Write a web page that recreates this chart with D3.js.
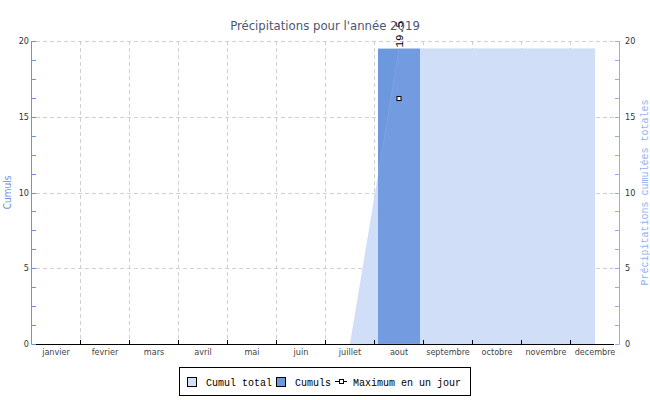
<!DOCTYPE html>
<html><head><meta charset="utf-8">
<script src="https://cdn.jsdelivr.net/npm/d3@7"></script>
<style>body{margin:0;background:#fff}</style>
</head><body>
<svg id="c" width="650" height="400"></svg>
<script>
const months = ["janvier","fevrier","mars","avril","mai","juin","juillet","aout","septembre","octobre","novembre","decembre"];
const cumulTotal = [0,0,0,0,0,0,0,19.5,19.5,19.5,19.5,19.5];
const cumuls = [0,0,0,0,0,0,0,19.5,0,0,0,0];
const maxJour = [null,null,null,null,null,null,null,16.2,null,null,null,null];
const yTicks = [0,5,10,15,20];
const title = "Précipitations pour l'année 2019";

const svg = d3.select("#c");
const L = 31.5, R = 619.5, T = 41, B = 344;
const x = d3.scaleBand().domain(months).range([L, R]);
const y = d3.scaleLinear().domain([0, 20]).range([B, T]);
const cx = m => x(m) + x.bandwidth()/2;
const sans = "'DejaVu Sans Condensed','DejaVu Sans',sans-serif";
const mono = "'Liberation Mono','DejaVu Sans Mono',monospace";

// grid
const g = svg.append("g");
g.selectAll("line.h").data(yTicks.filter(d=>d>0)).join("line")
  .attr("x1", 36).attr("x2", 614).attr("y1", d=>Math.round(y(d))+0.5).attr("y2", d=>Math.round(y(d))+0.5)
  .attr("stroke", "#d0d0d0").attr("stroke-dasharray", "4,3");
g.selectAll("line.v").data(months.slice(1)).join("line")
  .attr("x1", d=>Math.round(x(d))-0.5).attr("x2", d=>Math.round(x(d))-0.5).attr("y1", T).attr("y2", B)
  .attr("stroke", "#d0d0d0").attr("stroke-dasharray", "4,3");

// area cumul total
const area = d3.area().x(d=>cx(d.m)).y0(B).y1(d=>y(d.v));
const areaData = months.map((m,i)=>({m, v: cumulTotal[i]})).filter((d,i)=>i>=6);
svg.append("path").datum(areaData).attr("d", area).attr("fill", "#d2dff8");

// bars
const pad = 3.5;
svg.selectAll("rect.bar").data(months.map((m,i)=>({m, v: cumuls[i]})).filter(d=>d.v>0)).join("rect")
  .attr("x", d=>x(d.m)+pad).attr("width", x.bandwidth()-2*pad)
  .attr("y", d=>y(d.v)).attr("height", d=>B - y(d.v))
  .attr("fill", "#6d98dd");

// faint area overlay over the bar
svg.append("path").datum(areaData).attr("d", area)
  .attr("fill","rgba(210,223,248,0.06)").attr("stroke","rgba(210,223,248,0.12)").attr("stroke-width",1);

// max marker
svg.selectAll("rect.mk").data(months.map((m,i)=>({m, v: maxJour[i]})).filter(d=>d.v!=null)).join("rect")
  .attr("x", d=>cx(d.m)-2).attr("y", d=>y(d.v)-2).attr("width", 4).attr("height", 4)
  .attr("fill", "#fff").attr("stroke", "#000").attr("stroke-width", 1);

// left axis
svg.append("line").attr("x1", 31.5).attr("x2", 31.5).attr("y1", T).attr("y2", B+0.5).attr("stroke", "#6a94dc");
const minor = d3.range(0, 20.01, 1.25);
svg.selectAll("line.lt").data(minor).join("line")
  .attr("x1", 31.5).attr("x2", 36).attr("y1", d=>Math.round(y(d))+0.5).attr("y2", d=>Math.round(y(d))+0.5)
  .attr("stroke", "#6a94dc");
svg.selectAll("text.ly").data(yTicks).join("text")
  .attr("x", 29).attr("y", d=>y(d)).attr("dy", "0.35em").attr("text-anchor", "end")
  .attr("font-family", sans).attr("font-size", 9).attr("fill", "#333").text(d=>d);
svg.append("text").attr("transform", `translate(11,${(T+B)/2}) rotate(-90)`).attr("text-anchor","middle")
  .attr("font-family", sans).attr("font-size", 10).attr("fill", "#6a94dc").text("Cumuls");

// right axis
svg.append("line").attr("x1", 619.5).attr("x2", 619.5).attr("y1", T).attr("y2", B+0.5).attr("stroke", "#8db2f2");
svg.selectAll("line.rt").data(minor).join("line")
  .attr("x1", 615).attr("x2", 619.5).attr("y1", d=>Math.round(y(d))+0.5).attr("y2", d=>Math.round(y(d))+0.5)
  .attr("stroke", "#8db2f2");
svg.selectAll("text.ry").data(yTicks).join("text")
  .attr("x", 625).attr("y", d=>y(d)).attr("dy", "0.35em").attr("text-anchor", "start")
  .attr("font-family", sans).attr("font-size", 9).attr("fill", "#333").text(d=>d);
svg.append("text").attr("transform", `translate(648,${(T+B)/2}) rotate(-90)`).attr("text-anchor","middle")
  .attr("font-family", mono).attr("font-size", 10).attr("fill", "#8db2f2").text("Précipitations cumulées totales");

// bottom axis
svg.append("line").attr("x1", 36).attr("x2", 614).attr("y1", B+0.5).attr("y2", B+0.5).attr("stroke", "#000");
svg.selectAll("line.bt").data(months.slice(1)).join("line")
  .attr("x1", d=>Math.round(x(d))-0.5).attr("x2", d=>Math.round(x(d))-0.5).attr("y1", B-4).attr("y2", B+0.5)
  .attr("stroke", "#000");
svg.selectAll("text.mx").data(months).join("text")
  .attr("x", d=>cx(d)).attr("y", 355).attr("text-anchor", "middle")
  .attr("font-family", sans).attr("font-size", 9).attr("fill", "#444").text(d=>d);

// title
svg.append("text").attr("x", 325).attr("y", 30).attr("text-anchor","middle")
  .attr("font-family", sans).attr("font-size", 13).attr("fill", "#4d5670").text(title);

// bar label
svg.selectAll("text.bl").data(months.map((m,i)=>({m, v: cumuls[i]})).filter(d=>d.v>0)).join("text")
  .attr("transform", d=>`translate(${cx(d.m)+4},${y(d.v)-1}) rotate(-90)`)
  .attr("font-family", mono).attr("font-size", 11).attr("fill", "#000").text(d=>d.v);

// legend
const lg = svg.append("g");
lg.append("rect").attr("x", 179.5).attr("y", 367.5).attr("width", 291).attr("height", 28).attr("fill","#fff").attr("stroke","#000");
lg.append("rect").attr("x", 187.5).attr("y", 377.5).attr("width", 9).attr("height", 9).attr("fill","#d2dff8").attr("stroke","#000");
lg.append("text").attr("x", 206).attr("y", 385.5).attr("font-family", mono).attr("font-size", 10).attr("fill","#000").text("Cumul total");
lg.append("rect").attr("x", 276.5).attr("y", 377.5).attr("width", 9).attr("height", 9).attr("fill","#6d98dd").attr("stroke","#000");
lg.append("text").attr("x", 295).attr("y", 385.5).attr("font-family", mono).attr("font-size", 10).attr("fill","#000").text("Cumuls");
lg.append("line").attr("x1", 335).attr("x2", 347).attr("y1", 381.5).attr("y2", 381.5).attr("stroke","#000");
lg.append("rect").attr("x", 339.5).attr("y", 379.5).attr("width", 4).attr("height", 4).attr("fill","#fff").attr("stroke","#000");
lg.append("text").attr("x", 353).attr("y", 385.5).attr("font-family", mono).attr("font-size", 10).attr("fill","#000").text("Maximum en un jour");
</script>
</body></html>
